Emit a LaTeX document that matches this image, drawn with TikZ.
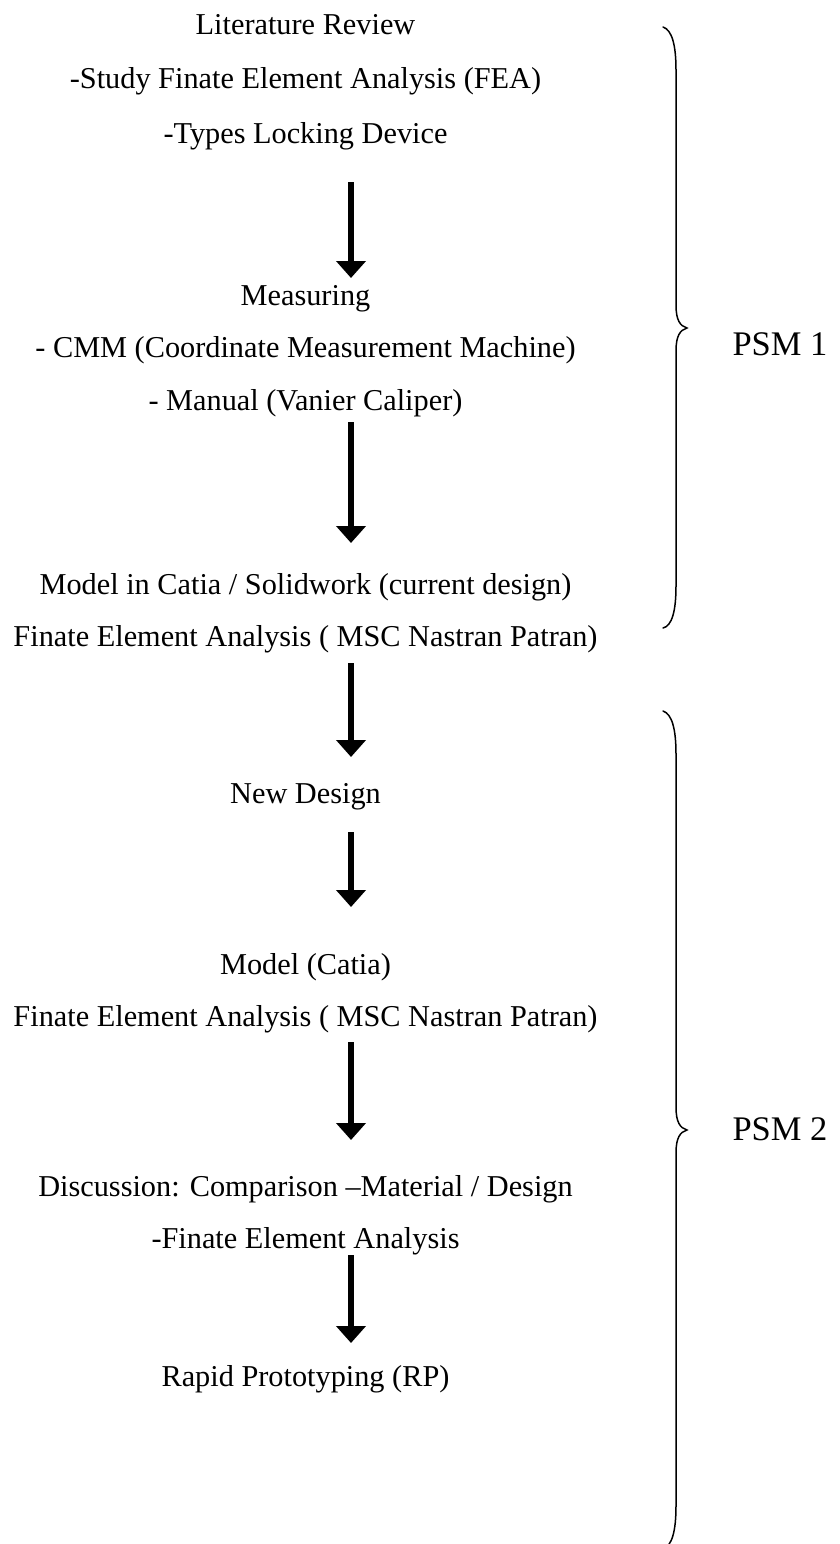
\documentclass[tikz,border=0pt]{standalone}
\usepackage{fontspec}
\setmainfont{Liberation Serif}
\usetikzlibrary{arrows.meta}
\begin{document}
\begin{tikzpicture}[x=1pt,y=-1pt,
  txt/.style={anchor=base,inner sep=0pt,font=\fontsize{30.3}{36}\selectfont},
  lbl/.style={anchor=base,inner sep=0pt,font=\fontsize{34.5}{40}\selectfont},
  flow/.style={line width=6pt,-{Triangle[width=29pt,length=17pt]}},
  brace/.style={line width=1.5pt,line cap=round}]
\useasboundingbox (0,0) rectangle (840,1544);
% group 1
\node[txt] (l1) at (305.5,35) {Literature Review};
\node[txt] (l2) at (305.5,89) {-Study Finate Element Analysis (FEA)};
\node[txt] (l3) at (305.5,143) {-Types Locking Device};
% group 2
\node[txt] (m1) at (305.5,305) {Measuring};
\node[txt] (m2) at (305.5,357.5) {- CMM (Coordinate Measurement Machine)};
\node[txt] (m3) at (305.5,410) {- Manual (Vanier Caliper)};
% group 3
\node[txt] (c1) at (305.5,594) {Model in Catia / Solidwork (current design)};
\node[txt] (c2) at (305.5,646) {Finate Element Analysis ( MSC Nastran Patran)};
% group 4
\node[txt] (nd) at (305.5,803) {New Design};
% group 5
\node[txt] (n1) at (305.5,974) {Model (Catia)};
\node[txt] (n2) at (305.5,1026) {Finate Element Analysis ( MSC Nastran Patran)};
% group 6
\node[txt] (d1) at (305.5,1196) {Discussion: Comparison {\textendash}Material / Design};
\node[txt] (d2) at (305.5,1248) {-Finate Element Analysis};
% group 7
\node[txt] (rp) at (305.5,1386) {Rapid Prototyping (RP)};
% arrows
\coordinate (a1s) at (351,182); \coordinate (a1e) at (351,278);
\coordinate (a2s) at (351,422); \coordinate (a2e) at (351,543);
\coordinate (a3s) at (351,663); \coordinate (a3e) at (351,757);
\coordinate (a4s) at (351,832); \coordinate (a4e) at (351,907);
\coordinate (a5s) at (351,1042); \coordinate (a5e) at (351,1140);
\coordinate (a6s) at (351,1255); \coordinate (a6e) at (351,1343);
\draw[flow] (a1s) -- (a1e);
\draw[flow] (a2s) -- (a2e);
\draw[flow] (a3s) -- (a3e);
\draw[flow] (a4s) -- (a4e);
\draw[flow] (a5s) -- (a5e);
\draw[flow] (a6s) -- (a6e);
% braces
\draw[brace] (663,27) .. controls (672,30) and (676,45) .. (676,70) -- (676,305)
  .. controls (676,320) and (680,326) .. (687,328)
  .. controls (680,330) and (676,336) .. (676,351) -- (676,586)
  .. controls (676,611) and (672,626) .. (663,628);
\draw[brace] (663,711) .. controls (672,714) and (676,729) .. (676,754) -- (676,1107)
  .. controls (676,1122) and (680,1128) .. (687,1130)
  .. controls (680,1132) and (676,1138) .. (676,1153) -- (676,1506)
  .. controls (676,1531) and (672,1546) .. (663,1549);
\node[lbl] (p1) at (780,355) {PSM 1};
\node[lbl] (p2) at (780,1140) {PSM 2};
\end{tikzpicture}
\end{document}
